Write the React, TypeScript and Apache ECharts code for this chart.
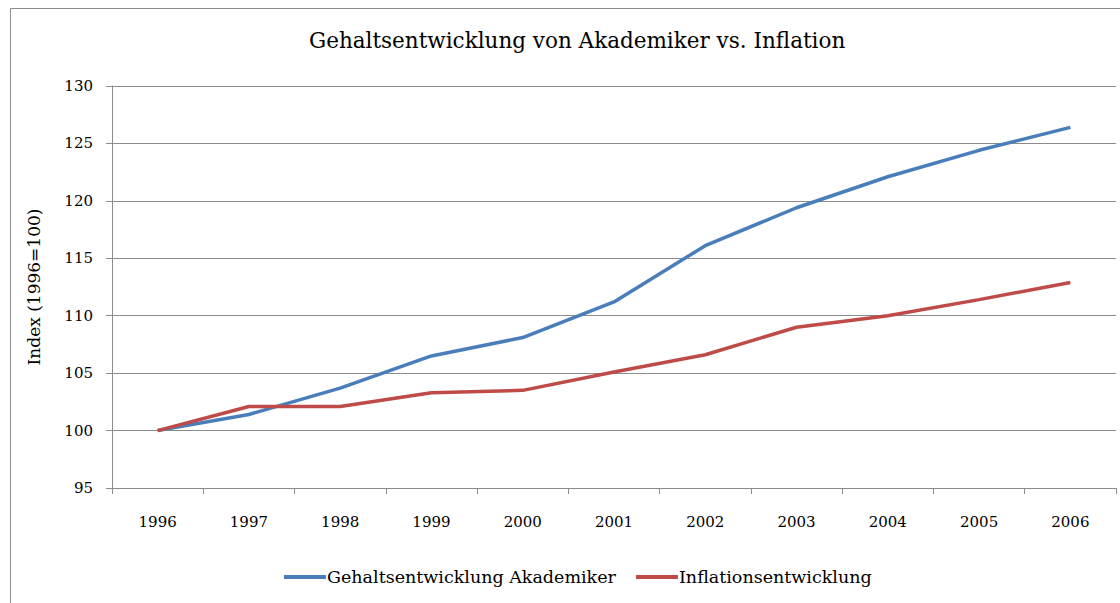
import React, { useEffect, useRef } from "react";
import * as echarts from "echarts";

const years = ["1996", "1997", "1998", "1999", "2000", "2001", "2002", "2003", "2004", "2005", "2006"];
const gehalt = [100, 101.4, 103.7, 106.5, 108.1, 111.2, 116.1, 119.4, 122.1, 124.4, 126.4];
const inflation = [100, 102.1, 102.1, 103.3, 103.5, 105.1, 106.6, 109.0, 110.0, 111.4, 112.9];
const seriesNames = ["Gehaltsentwicklung Akademiker", "Inflationsentwicklung"];
const titleText = "Gehaltsentwicklung von Akademiker vs. Inflation";
const yAxisName = "Index (1996=100)";

const FONT = "DejaVu Serif";

export default function App() {
  const ref = useRef<HTMLDivElement>(null);
  useEffect(() => {
    if (!ref.current) return;
    const chart = echarts.init(ref.current, null, { renderer: "svg" });
    chart.setOption({
      animation: false,
      backgroundColor: "#ffffff",
      textStyle: { fontFamily: FONT },
      title: {
        text: titleText,
        left: 304,
        top: 24,
        textStyle: { fontFamily: FONT, fontSize: 21.5, fontWeight: "normal", color: "#000" },
      },
      graphic: [
        {
          type: "rect",
          shape: { x: 10.5, y: 8.5, width: 1200, height: 700 },
          style: { fill: "none", stroke: "#8c8c8c", lineWidth: 1 },
          silent: true,
        },
      ],
      legend: {
        bottom: 12,
        left: 279,
        itemWidth: 42,
        itemHeight: 4,
        itemGap: 20,
        icon: "rect",
        textStyle: { fontFamily: FONT, fontSize: 17.5, color: "#000", padding: [0, 0, 0, -4] },
        data: seriesNames,
      },
      grid: { left: 112, top: 86, right: 4, bottom: 115 },
      xAxis: {
        type: "category",
        data: years,
        boundaryGap: true,
        axisLine: { lineStyle: { color: "#8c8c8c", width: 1 } },
        axisTick: { show: true, length: 6, interval: 0, lineStyle: { color: "#8c8c8c" } },
        axisLabel: { fontFamily: FONT, fontSize: 15, color: "#000", margin: 26 },
      },
      yAxis: {
        type: "value",
        min: 95,
        max: 130,
        interval: 5,
        name: yAxisName,
        nameLocation: "middle",
        nameGap: 70,
        nameTextStyle: { fontFamily: FONT, fontSize: 17, color: "#000" },
        axisLine: { show: true, lineStyle: { color: "#8c8c8c", width: 1 } },
        axisTick: { show: true, length: 6, lineStyle: { color: "#8c8c8c" } },
        axisLabel: { fontFamily: FONT, fontSize: 15, color: "#000", margin: 19 },
        splitLine: { lineStyle: { color: "#8c8c8c", width: 1 } },
      },
      series: [
        {
          name: seriesNames[0],
          type: "line",
          data: gehalt,
          symbol: "none",
          lineStyle: { color: "#4a7ebb", width: 3.5 },
          itemStyle: { color: "#4a7ebb" },
        },
        {
          name: seriesNames[1],
          type: "line",
          data: inflation,
          symbol: "none",
          lineStyle: { color: "#be4b48", width: 3.5 },
          itemStyle: { color: "#be4b48" },
        },
      ],
    });
    return () => chart.dispose();
  }, []);
  return (
    <div
      ref={ref}
      style={{ position: "fixed", left: 0, top: 0, width: 1120, height: 603 }}
    />
  );
}
